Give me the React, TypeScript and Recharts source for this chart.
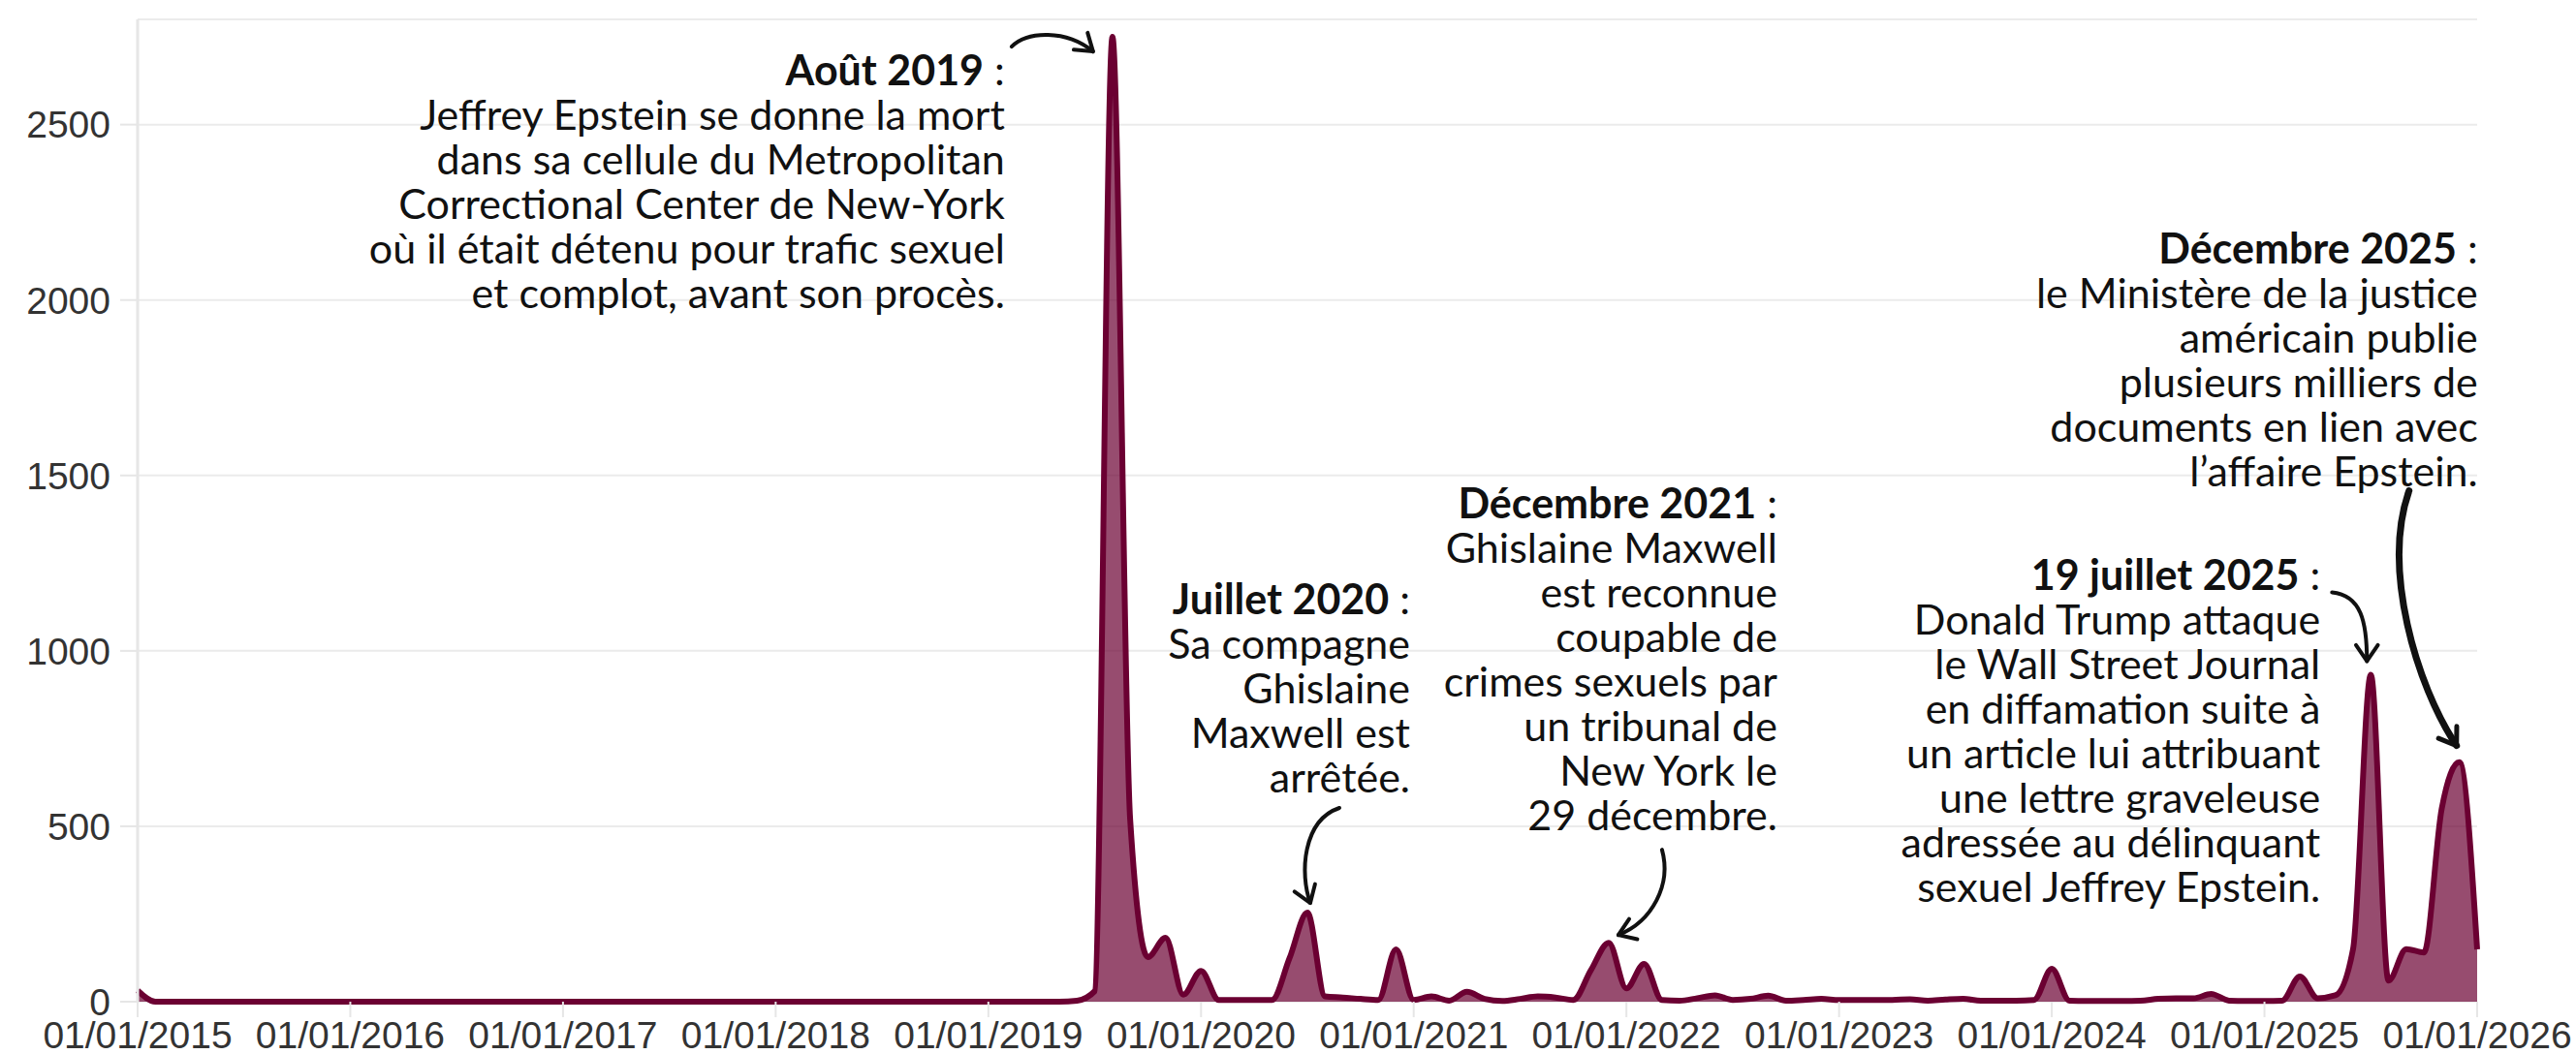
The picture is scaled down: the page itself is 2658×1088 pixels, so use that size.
import { Area, AreaChart, CartesianGrid, ReferenceDot, XAxis, YAxis } from 'recharts'

// monthly values, Jan -> Dec
const v2015 = [32, 0, 0, 0, 0, 0, 0, 0, 0, 0, 0, 0]
const v2016 = [0, 0, 0, 0, 0, 0, 0, 0, 0, 0, 0, 0]
const v2017 = [0, 0, 0, 0, 0, 0, 0, 0, 0, 0, 0, 0]
const v2018 = [0, 0, 0, 0, 0, 0, 0, 0, 0, 0, 0, 0]
const v2019 = [0, 0, 0, 0, 0, 3, 30, 2750, 520, 127, 182, 20]
const v2020 = [88, 5, 5, 5, 5, 125, 254, 15, 12, 8, 5, 149]
const v2021 = [5, 15, 3, 28, 8, 2, 8, 15, 12, 5, 90, 168]
const v2022 = [38, 108, 5, 3, 10, 18, 5, 8, 17, 3, 5, 8]
const v2023 = [5, 5, 5, 5, 7, 3, 6, 8, 3, 3, 3, 5]
const v2024 = [94, 3, 2, 2, 2, 3, 8, 10, 10, 22, 3, 2]
const v2025 = [2, 3, 72, 10, 18, 150, 932, 60, 150, 140, 550, 683]
const v2026 = [149]

const yearValues = [v2015, v2016, v2017, v2018, v2019, v2020, v2021, v2022, v2023, v2024, v2025, v2026]
const firstYear = 2015
const tickYears = [2015, 2016, 2017, 2018, 2019, 2020, 2021, 2022, 2023, 2024, 2025, 2026]
const yTicks = [0, 500, 1000, 1500, 2000, 2500]

const data = yearValues.flatMap((vals, yi) => vals.map((value, m) => ({ t: yi * 12 + m, value })))

// annotation texts
const aout2019 = ['Jeffrey Epstein se donne la mort', 'dans sa cellule du Metropolitan', 'Correctional Center de New-York', 'où il était détenu pour trafic sexuel', 'et complot, avant son procès.']
const juillet2020 = ['Sa compagne', 'Ghislaine', 'Maxwell est', 'arrêtée.']
const decembre2021 = ['Ghislaine Maxwell', 'est reconnue', 'coupable de', 'crimes sexuels par', 'un tribunal de', 'New York le', '29 décembre.']
const juillet2025 = ['Donald Trump attaque', 'le Wall Street Journal', 'en diffamation suite à', 'un article lui attribuant', 'une lettre graveleuse', 'adressée au délinquant', 'sexuel Jeffrey Epstein.']
const decembre2025 = ['le Ministère de la justice', 'américain publie', 'plusieurs milliers de', 'documents en lien avec', 'l’affaire Epstein.']

const notes = [
    { t: 55, title: 'Août 2019', lines: aout2019, tx: -111, ty: 50, arrow: [[-104, 10], [-88, -6], [-48, -8], [-20, 15]], w: 4 },
    { t: 66, title: 'Juillet 2020', lines: juillet2020, tx: 106, ty: -308, arrow: [[33, -108], [-5, -95], [-8, -40], [3, -10]], w: 4 },
    { t: 83, title: 'Décembre 2021', lines: decembre2021, tx: 174, ty: -438, arrow: [[55, -96], [65, -60], [45, -22], [10, -8]], w: 4 },
    { t: 126, title: '19 juillet 2025', lines: juillet2025, tx: -52, ty: -87, arrow: [[-40, -85], [-10, -82], [-4, -55], [-4, -14]], w: 4 },
    { t: 131, title: 'Décembre 2025', lines: decembre2025, tx: 19, ty: -515, arrow: [[-52, -280], [-80, -200], [-45, -80], [-3, -17]], w: 7 },
]

const LINE = 46

const Note = ({ cx, cy, note }: any) => {
    const x = cx + note.tx
    const y = cy + note.ty
    const p = note.arrow.map(([dx, dy]: number[]) => [cx + dx, cy + dy])
    const [e, c] = [p[3], p[2]]
    const len = Math.hypot(e[0] - c[0], e[1] - c[1])
    const ux = (e[0] - c[0]) / len
    const uy = (e[1] - c[1]) / len
    const head = (a: number) => {
        const ca = Math.cos(a), sa = Math.sin(a)
        const rx = -(ux * ca - uy * sa)
        const ry = -(ux * sa + uy * ca)
        return `M${e[0] + rx * 20},${e[1] + ry * 20} L${e[0]},${e[1]}`
    }
    return (
        <g>
            <text x={x} y={y} textAnchor="end" fontFamily="Lato" fontSize={43} fill="#111">
                <tspan fontWeight={700}>{note.title}</tspan>
                <tspan>{'\u00a0:'}</tspan>
                {note.lines.map((l: string, i: number) => (
                    <tspan key={i} x={x} y={y + (i + 1) * LINE}>{l}</tspan>
                ))}
            </text>
            <path
                d={`M${p[0][0]},${p[0][1]} C${p[1][0]},${p[1][1]} ${p[2][0]},${p[2][1]} ${p[3][0]},${p[3][1]}`}
                fill="none" stroke="#111" strokeWidth={note.w} strokeLinecap="round"
            />
            <path d={head(0.6) + ' ' + head(-0.6)} fill="none" stroke="#111" strokeWidth={Math.min(note.w, 5)} strokeLinecap="round" strokeLinejoin="round" />
        </g>
    )
}

const tickStyle = { fontFamily: '"Liberation Sans", Arial, sans-serif', fontSize: 39, fill: '#333' }

export default function App() {
    return (
        <div style={{ position: 'absolute', left: 0, top: 0, background: '#fff' }}>
            <AreaChart width={2658} height={1088} data={data} margin={{ top: 20, right: 102, bottom: 0, left: 0 }}>
                <CartesianGrid vertical={false} stroke="#ebebeb" strokeWidth={2} />
                <XAxis
                    type="number"
                    dataKey="t"
                    domain={[0, 132]}
                    ticks={tickYears.map((y) => (y - firstYear) * 12)}
                    tickFormatter={(t) => `01/01/${firstYear + t / 12}`}
                    interval={0}
                    axisLine={false}
                    tickLine={{ stroke: '#e6e6e6', strokeWidth: 2 }}
                    tickSize={16}
                    tickMargin={4}
                    height={54}
                    tick={tickStyle}
                />
                <YAxis
                    domain={[0, 2800]}
                    ticks={yTicks}
                    width={142}
                    axisLine={{ stroke: '#e6e6e6', strokeWidth: 3 }}
                    tickLine={{ stroke: '#e6e6e6', strokeWidth: 2 }}
                    tickSize={18}
                    tickMargin={10}
                    tick={tickStyle}
                />
                <Area
                    type="monotone"
                    dataKey="value"
                    stroke="#6b0032"
                    strokeWidth={6}
                    fill="#6b0032"
                    fillOpacity={0.7}
                    isAnimationActive={false}
                />
                {notes.map((n) => (
                    <ReferenceDot
                        key={n.title}
                        x={n.t}
                        y={data[n.t].value}
                        r={0}
                        ifOverflow="visible"
                        shape={(props: any) => <Note cx={props.cx} cy={props.cy} note={n} />}
                    />
                ))}
            </AreaChart>
        </div>
    )
}
